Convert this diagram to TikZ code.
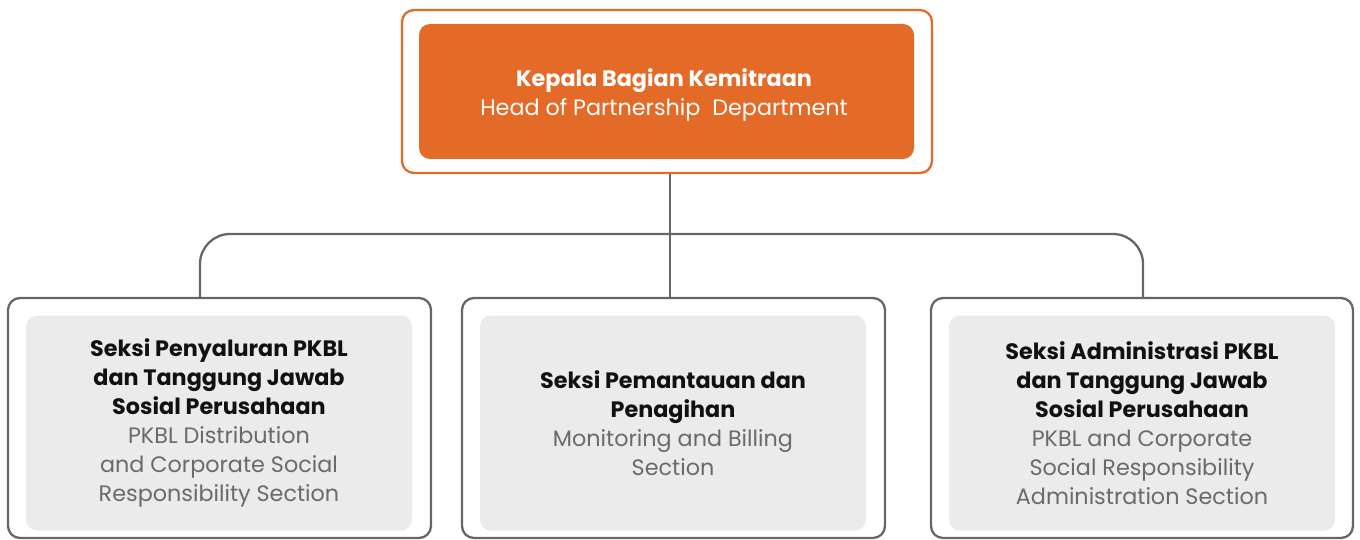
\documentclass[tikz,border=0pt]{standalone}
\usepackage{fontspec}
\setmainfont{Poppins}
\definecolor{orng}{HTML}{E36A27}
\definecolor{linegray}{HTML}{666666}
\definecolor{boxgray}{HTML}{EBEBEB}
\definecolor{txtgray}{HTML}{6A6A6A}
\definecolor{txtblack}{HTML}{111111}
\begin{document}
\begin{tikzpicture}[x=1pt,y=-1pt,
  frame/.style={draw=#1, line width=2.3pt, rounded corners=12pt, fill=white, inner sep=0pt},
  panel/.style={fill=#1, rounded corners=11pt, inner sep=0pt, align=center,
    font=\fontsize{22.3}{29}\selectfont},
  conn/.style={draw=linegray, line width=2.3pt}]
\useasboundingbox (0,0) rectangle (1360,540);
% top
\node[frame=orng, minimum width=530pt, minimum height=163pt] (topo) at (667,91.5) {};
\node[panel=orng, minimum width=495pt, minimum height=135pt, text=white] (topi) at (666.5,91.5) {};
\node[text=white, align=center, inner sep=0pt, font=\fontsize{22.3}{29}\selectfont] (topt) at (664,95)
  {\textbf{Kepala Bagian Kemitraan}\\Head of Partnership\ \ Department};
% bottom frames
\node[frame=linegray, minimum width=423pt, minimum height=240pt] (lo) at (219.5,418) {};
\node[frame=linegray, minimum width=423pt, minimum height=240pt] (mo) at (673.5,418) {};
\node[frame=linegray, minimum width=422pt, minimum height=240pt] (ro) at (1142,418) {};
\node[panel=boxgray, minimum width=386pt, minimum height=215pt] (li) at (219,423)
  {\textcolor{txtblack}{\textbf{Seksi Penyaluran PKBL}}\\\textcolor{txtblack}{\textbf{dan Tanggung Jawab}}\\\textcolor{txtblack}{\textbf{Sosial Perusahaan}}\\
   \textcolor{txtgray}{PKBL Distribution}\\\textcolor{txtgray}{and Corporate Social}\\\textcolor{txtgray}{Responsibility Section}};
\node[panel=boxgray, minimum width=386pt, minimum height=215pt] (mi) at (673,423)
  {\textcolor{txtblack}{\textbf{Seksi Pemantauan dan}}\\\textcolor{txtblack}{\textbf{Penagihan}}\\
   \textcolor{txtgray}{Monitoring and Billing}\\\textcolor{txtgray}{Section}};
\node[panel=boxgray, minimum width=386pt, minimum height=215pt] (ri) at (1142,423)
  {\textcolor{txtblack}{\textbf{Seksi Administrasi PKBL}}\\\textcolor{txtblack}{\textbf{dan Tanggung Jawab}}\\\textcolor{txtblack}{\textbf{Sosial Perusahaan}}\\
   \textcolor{txtgray}{PKBL and Corporate}\\\textcolor{txtgray}{Social Responsibility}\\\textcolor{txtgray}{Administration Section}};
% connectors
\coordinate (bl) at (200,234);
\coordinate (br) at (1143,234);
\draw[conn] (topo.south -| 670,0) -- (mo.north -| 670,0);
\draw[conn, rounded corners=30pt] (lo.north -| bl) -- (bl) -- (br) -- (ro.north -| br);
\end{tikzpicture}
\end{document}
